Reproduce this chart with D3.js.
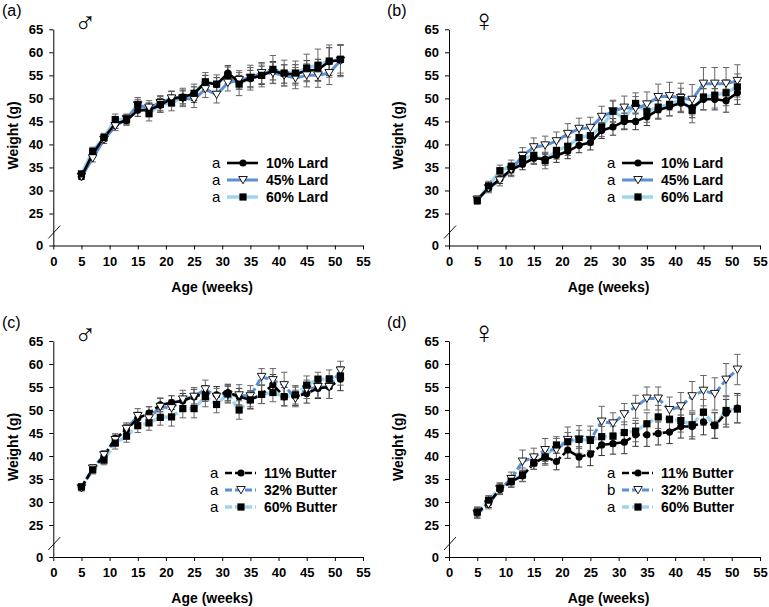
<!DOCTYPE html>
<html><head><meta charset="utf-8">
<script src="https://cdn.jsdelivr.net/npm/d3@7"></script>
<style>body{margin:0;background:#fff}svg text{font-family:"Liberation Sans",Arial,sans-serif}</style>
</head><body><svg id="c" width="769" height="607"></svg>
<script>
// ---------- data ----------
const weeks = [5,7,9,11,13,15,17,19,21,23,25,27,29,31,33,35,37,39,41,43,45,47,49,51];
const xTicks = [0,5,10,15,20,25,30,35,40,45,50,55];
const yTicks = [0,25,30,35,40,45,50,55,60,65];

// (a) male, lard
const a10  = [33.0,38.0,41.5,44.5,45.2,47.4,47.5,48.5,50.0,50.3,51.0,53.5,53.0,55.5,53.5,54.3,55.0,56.0,55.3,55.3,56.0,56.2,58.0,58.3];
const a45  = [33.0,37.0,41.0,44.0,45.5,48.5,48.0,49.0,50.0,50.0,49.8,52.0,50.8,53.4,54.0,54.5,55.5,55.5,55.0,54.4,55.0,55.0,55.5,58.2];
const a60  = [33.6,38.5,41.5,45.4,45.4,48.7,46.7,48.7,49.0,50.2,51.1,53.6,53.1,55.0,53.1,54.5,55.0,56.3,55.5,55.5,56.6,57.2,58.1,58.5];
const a10e = [0.6,0.8,0.8,1.0,1.0,1.3,1.5,1.5,1.5,1.5,1.5,1.5,1.5,1.6,1.5,1.8,2.0,2.0,2.0,2.0,2.2,2.3,3.0,3.3];
const a45e = [0.6,0.8,0.8,1.0,1.0,1.3,1.5,1.6,1.6,1.6,1.8,1.8,1.8,1.8,2.0,2.2,2.3,2.3,2.3,2.3,2.5,2.6,2.5,3.5];
const a60e = [0.6,0.9,0.9,1.2,1.2,1.5,1.6,1.7,1.7,2.0,2.0,2.0,2.0,1.8,2.5,2.7,2.5,3.0,2.8,2.6,3.0,3.5,3.5,3.0];

// (b) female, lard
const b10  = [28.0,30.5,32.5,34.5,35.7,37.0,36.8,37.6,38.5,39.8,40.4,43.0,43.8,45.0,45.0,46.0,47.5,48.2,49.0,48.0,49.8,49.8,49.5,51.2];
const b45  = [28.0,30.5,32.2,34.5,37.5,39.4,39.8,40.7,42.3,43.4,43.6,46.0,47.2,48.0,47.8,48.7,50.3,50.5,50.1,49.7,53.2,53.2,53.2,53.8];
const b60  = [27.8,31.0,34.3,35.2,36.9,37.6,36.5,38.7,39.6,41.5,41.9,43.8,47.2,45.6,48.9,47.1,48.1,48.7,49.7,47.4,50.3,50.7,51.2,52.5];
const b10e = [0.7,0.8,1.0,1.2,1.2,1.3,1.3,1.5,1.6,1.6,1.6,1.7,1.8,1.8,1.8,1.9,2.0,2.0,2.0,2.2,2.3,2.3,2.5,2.5];
const b45e = [0.8,1.0,1.2,1.5,1.8,2.0,2.0,2.0,2.2,2.3,2.3,2.3,2.4,2.5,2.6,2.7,2.8,3.0,3.2,3.3,3.5,3.5,3.5,3.5];
const b60e = [0.8,1.0,1.2,1.4,1.5,1.7,1.8,1.9,2.0,2.0,2.0,2.1,2.2,2.2,2.3,2.3,2.4,2.5,2.5,2.7,2.8,2.8,2.8,2.8];

// (c) male, butter
const c11  = [33.2,37.2,40.0,43.8,45.7,48.2,49.3,51.1,51.6,52.0,52.9,53.6,53.3,53.8,52.9,52.2,53.4,55.5,52.9,53.0,53.6,54.7,55.0,56.7];
const c32  = [33.0,37.3,40.2,43.5,45.9,48.7,48.2,50.7,50.4,52.3,52.9,54.5,52.9,53.3,53.2,53.0,57.2,56.5,55.4,52.5,54.5,55.0,55.0,58.6];
const c60  = [33.3,37.0,39.1,42.8,44.3,46.6,47.2,48.4,48.5,50.3,50.3,52.9,51.2,53.5,50.0,52.2,53.4,53.8,52.9,53.3,55.4,56.7,56.7,57.4];
const c11e = [0.6,0.8,1.0,1.0,1.2,1.3,1.4,1.5,1.5,1.6,1.6,1.7,1.8,1.8,1.8,1.9,2.0,2.2,2.0,2.0,2.1,2.2,2.5,2.5];
const c32e = [0.6,0.8,1.0,1.0,1.3,1.6,1.6,1.8,1.8,2.0,2.0,2.0,1.8,1.8,2.3,2.3,1.8,2.5,2.8,1.8,2.0,2.3,2.5,2.0];
const c60e = [0.6,0.9,1.0,1.3,1.3,1.5,1.6,1.7,2.0,2.0,2.0,2.2,1.8,1.8,2.0,2.0,2.0,2.0,2.0,2.0,2.0,1.5,2.0,2.0];

// (d) female, butter
const d11  = [27.7,29.8,32.7,34.4,35.7,38.4,39.8,38.8,41.3,39.8,40.4,42.4,42.7,43.0,44.6,44.6,44.9,45.2,46.4,46.4,47.4,46.6,49.3,50.4];
const d32  = [27.5,29.5,32.8,35.0,38.8,39.7,41.3,41.3,43.5,43.6,43.5,47.5,47.1,49.1,50.7,52.5,52.5,50.0,50.8,53.0,54.2,53.5,56.6,58.8];
const d60  = [27.8,30.4,33.0,34.5,35.9,38.6,39.8,42.4,43.1,43.6,43.4,44.2,44.3,45.1,45.4,47.0,48.5,48.0,47.7,46.8,49.5,46.7,49.9,50.2];
const d11e = [1.2,1.0,1.0,1.2,1.2,1.3,1.5,1.8,1.8,2.2,2.5,2.3,2.3,2.5,2.5,2.5,2.5,2.5,2.5,2.7,2.8,2.8,3.0,3.2];
const d32e = [1.0,1.0,1.2,1.5,2.5,2.0,2.5,2.5,2.8,3.0,3.0,3.3,2.3,2.3,2.5,2.5,2.5,2.8,3.0,3.2,3.3,3.5,3.5,3.3];
const d60e = [1.0,1.0,1.2,1.3,1.5,1.5,1.8,1.8,2.0,2.0,2.2,2.2,2.2,2.3,2.3,2.4,2.5,2.5,2.5,2.6,2.8,2.8,3.0,3.0];

const lardNames   = ["10% Lard","45% Lard","60% Lard"];
const butterNames = ["11% Butter","32% Butter","60% Butter"];
const lettersA = ["a","a","a"], lettersB = ["a","a","a"], lettersC = ["a","a","a"], lettersD = ["a","b","a"];

// ---------- styles ----------
const colors = ["#000000","#5b8fd6","#9dd4ee"];
const widths = [2.6,3,3.4];
const markers = ["circle","triangle","square"];

const panels = [
  {label:"(a)", sex:"\u2642", x0:53.3, x1:363, yb:245.5, yt:29.3, ox:0, oy:0, names:lardNames, letters:lettersA, vals:[a10,a45,a60], errs:[a10e,a45e,a60e], dash:null, leg:{x:212, y:163}},
  {label:"(b)", sex:"\u2640", x0:449, x1:760, yb:245.5, yt:29.3, ox:385, oy:0, names:lardNames, letters:lettersB, vals:[b10,b45,b60], errs:[b10e,b45e,b60e], dash:null, leg:{x:607, y:163}},
  {label:"(c)", sex:"\u2642", x0:53.3, x1:363, yb:557, yt:341, ox:0, oy:312, names:butterNames, letters:lettersC, vals:[c11,c32,c60], errs:[c11e,c32e,c60e], dash:"7,3", leg:{x:210, y:473}},
  {label:"(d)", sex:"\u2640", x0:449, x1:760, yb:557, yt:341, ox:385, oy:312, names:butterNames, letters:lettersD, vals:[d11,d32,d60], errs:[d11e,d32e,d60e], dash:"7,3", leg:{x:607, y:473}},
];

const svg = d3.select("#c");

function drawMarker(g, type, cx, cy){
  if(type==="circle") g.append("circle").attr("cx",cx).attr("cy",cy).attr("r",3.6).attr("fill","#000");
  else if(type==="square") g.append("rect").attr("x",cx-3.6).attr("y",cy-3.6).attr("width",7.2).attr("height",7.2).attr("fill","#000");
  else g.append("path").attr("d",`M${cx-4.3},${cy-3.5}L${cx+4.3},${cy-3.5}L${cx},${cy+3.8}Z`).attr("fill","#fff").attr("stroke","#000").attr("stroke-width",0.9);
}

panels.forEach(p=>{
  const x = d3.scaleLinear().domain([0,55]).range([p.x0,p.x1]);
  const y = d3.scaleLinear().domain([0,25,65]).range([p.yb, p.yb-32, p.yt]);
  const g = svg.append("g");

  // axes
  const ya = g.append("g").attr("transform",`translate(${p.x0},0)`)
    .call(d3.axisLeft(y).tickValues(yTicks).tickSize(4).tickSizeOuter(0).tickPadding(6));
  const xa = g.append("g").attr("transform",`translate(0,${p.yb})`)
    .call(d3.axisBottom(x).tickValues(xTicks).tickSize(4).tickSizeOuter(0).tickPadding(7));
  [ya,xa].forEach(a=>{
    a.selectAll("text").attr("font-size",13).attr("font-weight","bold").attr("fill","#000")
      .attr("font-family","'Liberation Sans',Arial,sans-serif");
    a.selectAll("line,path").attr("stroke","#000").attr("stroke-width",1);
  });
  // axis break mark
  g.append("line").attr("x1",p.x0-5).attr("y1",p.yb-7).attr("x2",p.x0+7).attr("y2",p.yb-20)
    .attr("stroke","#000").attr("stroke-width",0.9);

  // titles
  g.append("text").attr("x",(p.x0+p.x1)/2+4).attr("y",p.yb+46).attr("text-anchor","middle")
    .attr("font-size",14).attr("font-weight","bold").text("Age (weeks)");
  g.append("text").attr("transform",`translate(${p.ox+18},${(p.yb+p.yt)/2-2}) rotate(-90)`).attr("text-anchor","middle")
    .attr("font-size",14).attr("font-weight","bold").text("Weight (g)");
  g.append("text").attr("x",p.ox+2).attr("y",p.oy+16).attr("font-size",16).text(p.label);
  const male = p.sex==="\u2642";
  g.append("text").attr("x",p.x0+(male?32:35)).attr("y",p.yt+(male?4:2)).attr("text-anchor","middle")
    .attr("font-family","'DejaVu Sans',sans-serif").attr("font-size",male?30:31).text(p.sex);

  // series: lines (drawn back to front so black is on top), error bars, markers
  const order = [2,1,0];
  const line = d3.line().x((d,i)=>x(weeks[i])).y(d=>y(d));
  order.forEach(s=>{
    g.append("path").attr("d",line(p.vals[s])).attr("fill","none").attr("stroke",colors[s])
      .attr("stroke-width",widths[s]).attr("stroke-dasharray",p.dash).attr("stroke-linejoin","round");
  });
  [0,1,2].forEach(s=>{
    const eg = g.append("g").attr("stroke", s===0?"#333":"#666").attr("stroke-width",1);
    p.vals[s].forEach((v,i)=>{
      const cx = x(weeks[i]), lo=y(v-p.errs[s][i]), hi=y(v+p.errs[s][i]);
      eg.append("line").attr("x1",cx).attr("x2",cx).attr("y1",lo).attr("y2",hi);
      eg.append("line").attr("x1",cx-3.2).attr("x2",cx+3.2).attr("y1",lo).attr("y2",lo);
      eg.append("line").attr("x1",cx-3.2).attr("x2",cx+3.2).attr("y1",hi).attr("y2",hi);
    });
  });
  [0,1,2].forEach(s=>{
    p.vals[s].forEach((v,i)=>drawMarker(g, markers[s], x(weeks[i]), y(v)));
  });

  // legend
  [0,1,2].forEach(s=>{
    const ly = p.leg.y + s*17;
    g.append("text").attr("x",p.leg.x).attr("y",ly+5).attr("font-size",15).text(p.letters[s]);
    g.append("line").attr("x1",p.leg.x+15).attr("x2",p.leg.x+46).attr("y1",ly).attr("y2",ly)
      .attr("stroke",colors[s]).attr("stroke-width",widths[s]).attr("stroke-dasharray",p.dash);
    drawMarker(g, markers[s], p.leg.x+31, ly);
    g.append("text").attr("x",p.leg.x+54).attr("y",ly+5).attr("font-size",14).attr("font-weight","bold").text(p.names[s]);
  });
});
</script></body></html>
